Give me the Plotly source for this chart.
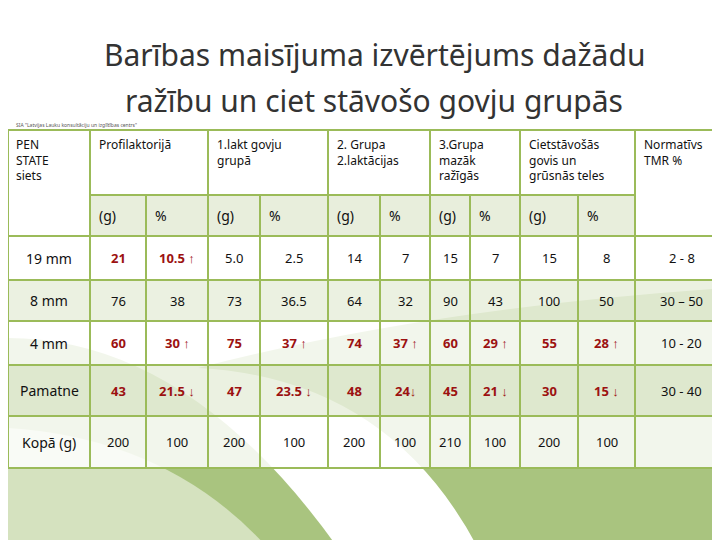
import plotly.graph_objects as go

# --- data ---
row_labels = ["19 mm", "8 mm", "4 mm", "Pamatne", "Kopā (g)"]
groups = ["Profilaktorijā", "1.lakt govju<br>grupā", "2. Grupa<br>2.laktācijas",
          "3.Grupa<br>mazāk<br>ražīgās", "Cietstāvošās<br>govis un<br>grūsnās teles"]
g_vals = [
    ["21", "76", "60", "43", "200"],
    ["5.0", "73", "75", "47", "200"],
    ["14", "64", "74", "48", "200"],
    ["15", "90", "60", "45", "210"],
    ["15", "100", "55", "30", "200"],
]
pct_vals = [
    ["10.5 ↑", "38", "30 ↑", "21.5 ↓", "100"],
    ["2.5", "36.5", "37 ↑", "23.5 ↓", "100"],
    ["7", "32", "37 ↑", "24↓", "100"],
    ["7", "43", "29 ↑", "21 ↓", "100"],
    ["8", "50", "28 ↑", "15 ↓", "100"],
]
red_g = [
    [True, False, True, True, False],
    [False, False, True, True, False],
    [False, False, True, True, False],
    [False, False, True, True, False],
    [False, False, True, True, False],
]
norm_vals = ["2 - 8", "30 – 50", "10 - 20", "30 - 40", ""]
title_lines = ["Barības maisījuma izvērtējums dažādu", "ražību un ciet stāvošo govju grupās"]

# --- layout geometry ---
col_edges = [0, 82, 200, 320, 422, 512, 627, 720]
sub_split = [138, 252, 372, 462, 570]
hdr_top, hdr_mid, hdr_bot = 122, 187, 228
row_edges = [228, 272, 313, 357, 408, 460]
row_fill = ["rgba(255,255,255,0.85)", "rgba(232,238,220,0.85)",
            "rgba(255,255,255,0.85)", "rgba(232,238,220,0.85)", "rgba(255,255,255,0.85)"]
grid = "#9bbb59"
red = "#9c1111"
dark = "#111111"
font = "Noto Sans"

fig = go.Figure()
shapes = []
ann = []

# background swooshes
shapes.append(dict(type="rect", x0=0, x1=720, y0=0, y1=540, fillcolor="white", line_width=0, layer="below"))
shapes.append(dict(type="path", layer="below", line_width=0, fillcolor="#a9c47f",
                   path="M 0 330 Q 180 330 330 540 L 0 540 Z"))
shapes.append(dict(type="path", layer="below", line_width=0, fillcolor="#a9c47f",
                   path="M 720 280 Q 420 300 190 360 Q 380 370 470 540 L 720 540 Z"))
shapes.append(dict(type="path", layer="below", line_width=0, fillcolor="#d5e2bf",
                   path="M 0 420 Q 160 430 260 540 L 0 540 Z"))

def cell(x0, x1, y0, y1, fill):
    shapes.append(dict(type="rect", x0=x0, x1=x1, y0=y0, y1=y1, fillcolor=fill,
                       line=dict(color=grid, width=2), layer="below"))

def text(x, y, s, color=dark, size=13, bold=False, xanchor="center", yanchor="middle"):
    if bold:
        s = "<b>" + s + "</b>"
    ann.append(dict(x=x, y=y, text=s, showarrow=False, xanchor=xanchor, yanchor=yanchor,
                    align="left", font=dict(family=font, size=size, color=color)))

# header
cell(col_edges[0], col_edges[1], hdr_top, hdr_bot, "white")
text(6, hdr_top + 4, "PEN<br>STATE<br>siets", size=12, xanchor="left", yanchor="top")
for i, gname in enumerate(groups):
    x0, x1 = col_edges[i + 1], col_edges[i + 2]
    cell(x0, x1, hdr_top, hdr_mid, "white")
    text(x0 + 7, hdr_top + 4, gname, size=12, xanchor="left", yanchor="top")
    for a, b, lab in [(x0, sub_split[i], "(g)"), (sub_split[i], x1, "%")]:
        cell(a, b, hdr_mid, hdr_bot, "#e8eedc")
        text(a + 7, (hdr_mid + hdr_bot) / 2, lab, size=14, xanchor="left")
cell(col_edges[6], col_edges[7], hdr_top, hdr_bot, "white")
text(col_edges[6] + 7, hdr_top + 4, "Normatīvs<br>TMR %", size=12, xanchor="left", yanchor="top")

# body
for r, lab in enumerate(row_labels):
    y0, y1 = row_edges[r], row_edges[r + 1]
    ym = (y0 + y1) / 2
    cell(col_edges[0], col_edges[1], y0, y1, row_fill[r])
    text(col_edges[1] / 2, ym, lab, size=14)
    for i in range(len(groups)):
        x0, x1 = col_edges[i + 1], col_edges[i + 2]
        s = sub_split[i]
        cell(x0, s, y0, y1, row_fill[r])
        cell(s, x1, y0, y1, row_fill[r])
        c = red if red_g[i][r] else dark
        text((x0 + s) / 2, ym, g_vals[i][r], color=c, bold=red_g[i][r])
        text((s + x1) / 2, ym, pct_vals[i][r], color=c, bold=red_g[i][r])
    cell(col_edges[6], col_edges[7], y0, y1, row_fill[r])
    text((col_edges[6] + col_edges[7]) / 2, ym, norm_vals[r])

# title
for k, line in enumerate(title_lines):
    ann.append(dict(x=366, y=46 + k * 46, text=line, showarrow=False,
                    xanchor="center", yanchor="middle",
                    font=dict(family=font, size=30, color="#333333")))
text(6, 117, "SIA \"Latvijas Lauku konsultāciju un izglītības centrs\"", size=5, color="#555", xanchor="left")

fig.update_layout(width=720, height=540, margin=dict(l=0, r=0, t=0, b=0),
                  paper_bgcolor="white", plot_bgcolor="white",
                  shapes=shapes, annotations=ann, showlegend=False,
                  xaxis=dict(range=[0, 720], visible=False, fixedrange=True),
                  yaxis=dict(range=[540, 0], visible=False, fixedrange=True))
fig.write_html("out.html")
